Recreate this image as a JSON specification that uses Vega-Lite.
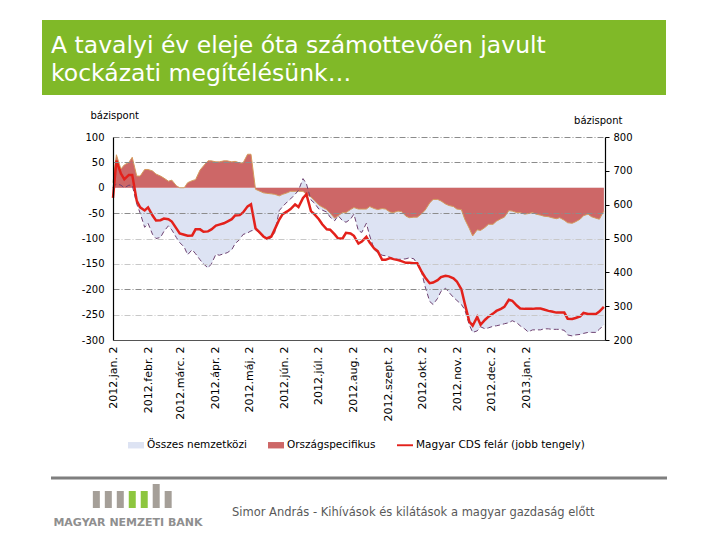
{
  "$schema": "https://vega.github.io/schema/vega-lite/v6.json",
  "padding": {"left": 42, "top": 20, "right": 0, "bottom": 0},
  "background": "white",
  "config": {
    "view": {"stroke": null},
    "font": "DejaVu Sans",
    "axis": {"labelFont": "DejaVu Sans", "titleFont": "DejaVu Sans"},
    "legend": {"labelFont": "DejaVu Sans"}
  },
  "bounds": "flush",
  "center": true,
  "spacing": 42,
  "datasets": {
    "cds": [
      {"date": "2012-01-02", "intl": 0, "cs": 10, "cds": 620},
      {"date": "2012-01-05", "intl": 8, "cs": 65, "cds": 730},
      {"date": "2012-01-09", "intl": 5, "cs": 37, "cds": 692},
      {"date": "2012-01-12", "intl": 0, "cs": 45, "cds": 675},
      {"date": "2012-01-16", "intl": 5, "cs": 50, "cds": 688},
      {"date": "2012-01-19", "intl": 5, "cs": 60, "cds": 688},
      {"date": "2012-01-23", "intl": -32, "cs": 23, "cds": 611},
      {"date": "2012-01-26", "intl": -50, "cs": 23, "cds": 592},
      {"date": "2012-01-30", "intl": -78, "cs": 36, "cds": 583},
      {"date": "2012-02-02", "intl": -70, "cs": 36, "cds": 592},
      {"date": "2012-02-06", "intl": -92, "cs": 33, "cds": 568},
      {"date": "2012-02-09", "intl": -100, "cs": 27, "cds": 553},
      {"date": "2012-02-13", "intl": -98, "cs": 23, "cds": 554},
      {"date": "2012-02-16", "intl": -86, "cs": 19, "cds": 559},
      {"date": "2012-02-20", "intl": -75, "cs": 13, "cds": 557},
      {"date": "2012-02-23", "intl": -83, "cs": 15, "cds": 550},
      {"date": "2012-02-27", "intl": -98, "cs": 4, "cds": 530},
      {"date": "2012-03-01", "intl": -108, "cs": 0, "cds": 515},
      {"date": "2012-03-05", "intl": -117, "cs": 0, "cds": 511},
      {"date": "2012-03-08", "intl": -132, "cs": 10, "cds": 508},
      {"date": "2012-03-12", "intl": -122, "cs": 14, "cds": 509},
      {"date": "2012-03-15", "intl": -130, "cs": 16, "cds": 527},
      {"date": "2012-03-19", "intl": -142, "cs": 35, "cds": 527},
      {"date": "2012-03-22", "intl": -150, "cs": 43, "cds": 520},
      {"date": "2012-03-26", "intl": -158, "cs": 53, "cds": 521},
      {"date": "2012-03-29", "intl": -150, "cs": 53, "cds": 527},
      {"date": "2012-04-02", "intl": -131, "cs": 51, "cds": 538},
      {"date": "2012-04-05", "intl": -133, "cs": 51, "cds": 541},
      {"date": "2012-04-09", "intl": -130, "cs": 53, "cds": 545},
      {"date": "2012-04-12", "intl": -128, "cs": 53, "cds": 550},
      {"date": "2012-04-16", "intl": -122, "cs": 51, "cds": 557},
      {"date": "2012-04-19", "intl": -110, "cs": 52, "cds": 568},
      {"date": "2012-04-23", "intl": -102, "cs": 49, "cds": 569},
      {"date": "2012-04-26", "intl": -92, "cs": 49, "cds": 577},
      {"date": "2012-04-30", "intl": -89, "cs": 66, "cds": 595},
      {"date": "2012-05-03", "intl": -85, "cs": 66, "cds": 601},
      {"date": "2012-05-07", "intl": -83, "cs": -3, "cds": 530},
      {"date": "2012-05-10", "intl": -88, "cs": -6, "cds": 520},
      {"date": "2012-05-14", "intl": -95, "cs": -10, "cds": 506},
      {"date": "2012-05-17", "intl": -103, "cs": -11, "cds": 500},
      {"date": "2012-05-21", "intl": -98, "cs": -12, "cds": 506},
      {"date": "2012-05-24", "intl": -88, "cs": -13, "cds": 527},
      {"date": "2012-05-28", "intl": -45, "cs": -16, "cds": 556},
      {"date": "2012-05-31", "intl": -37, "cs": -13, "cds": 572},
      {"date": "2012-06-04", "intl": -28, "cs": -10, "cds": 580},
      {"date": "2012-06-07", "intl": -22, "cs": -7, "cds": 587},
      {"date": "2012-06-11", "intl": -13, "cs": -7, "cds": 601},
      {"date": "2012-06-14", "intl": -5, "cs": -7, "cds": 593},
      {"date": "2012-06-18", "intl": 18, "cs": -7, "cds": 620},
      {"date": "2012-06-21", "intl": 8, "cs": -13, "cds": 631},
      {"date": "2012-06-25", "intl": -24, "cs": -18, "cds": 581},
      {"date": "2012-06-28", "intl": -30, "cs": -25, "cds": 572},
      {"date": "2012-07-02", "intl": -42, "cs": -34, "cds": 557},
      {"date": "2012-07-05", "intl": -44, "cs": -38, "cds": 542},
      {"date": "2012-07-09", "intl": -48, "cs": -43, "cds": 527},
      {"date": "2012-07-12", "intl": -58, "cs": -50, "cds": 526},
      {"date": "2012-07-16", "intl": -65, "cs": -60, "cds": 512},
      {"date": "2012-07-19", "intl": -55, "cs": -55, "cds": 500},
      {"date": "2012-07-23", "intl": -65, "cs": -49, "cds": 500},
      {"date": "2012-07-26", "intl": -68, "cs": -49, "cds": 517},
      {"date": "2012-07-30", "intl": -62, "cs": -43, "cds": 515},
      {"date": "2012-08-02", "intl": -52, "cs": -39, "cds": 508},
      {"date": "2012-08-06", "intl": -85, "cs": -42, "cds": 485},
      {"date": "2012-08-09", "intl": -88, "cs": -42, "cds": 491},
      {"date": "2012-08-13", "intl": -70, "cs": -42, "cds": 505},
      {"date": "2012-08-16", "intl": -95, "cs": -37, "cds": 488},
      {"date": "2012-08-20", "intl": -122, "cs": -41, "cds": 470},
      {"date": "2012-08-23", "intl": -128, "cs": -43, "cds": 463},
      {"date": "2012-08-27", "intl": -133, "cs": -41, "cds": 437},
      {"date": "2012-08-30", "intl": -134, "cs": -42, "cds": 437},
      {"date": "2012-09-03", "intl": -137, "cs": -48, "cds": 442},
      {"date": "2012-09-06", "intl": -140, "cs": -49, "cds": 439},
      {"date": "2012-09-10", "intl": -141, "cs": -46, "cds": 436},
      {"date": "2012-09-13", "intl": -141, "cs": -47, "cds": 433},
      {"date": "2012-09-17", "intl": -140, "cs": -56, "cds": 428},
      {"date": "2012-09-20", "intl": -138, "cs": -59, "cds": 428},
      {"date": "2012-09-24", "intl": -140, "cs": -58, "cds": 427},
      {"date": "2012-09-27", "intl": -150, "cs": -58, "cds": 427},
      {"date": "2012-10-01", "intl": -168, "cs": -51, "cds": 401},
      {"date": "2012-10-04", "intl": -195, "cs": -44, "cds": 385},
      {"date": "2012-10-08", "intl": -224, "cs": -30, "cds": 368},
      {"date": "2012-10-11", "intl": -230, "cs": -23, "cds": 370},
      {"date": "2012-10-15", "intl": -218, "cs": -23, "cds": 377},
      {"date": "2012-10-18", "intl": -204, "cs": -26, "cds": 386},
      {"date": "2012-10-22", "intl": -198, "cs": -32, "cds": 390},
      {"date": "2012-10-25", "intl": -206, "cs": -35, "cds": 388},
      {"date": "2012-10-29", "intl": -216, "cs": -37, "cds": 382},
      {"date": "2012-11-01", "intl": -222, "cs": -42, "cds": 373},
      {"date": "2012-11-05", "intl": -230, "cs": -43, "cds": 350},
      {"date": "2012-11-08", "intl": -240, "cs": -62, "cds": 308},
      {"date": "2012-11-12", "intl": -270, "cs": -80, "cds": 255},
      {"date": "2012-11-15", "intl": -285, "cs": -95, "cds": 242},
      {"date": "2012-11-19", "intl": -282, "cs": -83, "cds": 268},
      {"date": "2012-11-22", "intl": -274, "cs": -84, "cds": 245},
      {"date": "2012-11-26", "intl": -278, "cs": -78, "cds": 260},
      {"date": "2012-11-29", "intl": -276, "cs": -72, "cds": 269},
      {"date": "2012-12-03", "intl": -273, "cs": -72, "cds": 278},
      {"date": "2012-12-06", "intl": -272, "cs": -66, "cds": 286},
      {"date": "2012-12-10", "intl": -270, "cs": -61, "cds": 292},
      {"date": "2012-12-13", "intl": -268, "cs": -58, "cds": 298},
      {"date": "2012-12-17", "intl": -266, "cs": -45, "cds": 319},
      {"date": "2012-12-20", "intl": -262, "cs": -46, "cds": 316},
      {"date": "2012-12-24", "intl": -266, "cs": -49, "cds": 302},
      {"date": "2012-12-27", "intl": -272, "cs": -49, "cds": 293},
      {"date": "2012-12-31", "intl": -278, "cs": -52, "cds": 292},
      {"date": "2013-01-03", "intl": -284, "cs": -51, "cds": 292},
      {"date": "2013-01-07", "intl": -280, "cs": -49, "cds": 292},
      {"date": "2013-01-10", "intl": -280, "cs": -52, "cds": 293},
      {"date": "2013-01-14", "intl": -280, "cs": -54, "cds": 293},
      {"date": "2013-01-17", "intl": -278, "cs": -56, "cds": 290},
      {"date": "2013-01-21", "intl": -278, "cs": -57, "cds": 286},
      {"date": "2013-01-24", "intl": -279, "cs": -59, "cds": 284},
      {"date": "2013-01-28", "intl": -279, "cs": -61, "cds": 281},
      {"date": "2013-01-31", "intl": -279, "cs": -59, "cds": 281},
      {"date": "2013-02-04", "intl": -281, "cs": -64, "cds": 281},
      {"date": "2013-02-07", "intl": -290, "cs": -69, "cds": 263},
      {"date": "2013-02-11", "intl": -292, "cs": -70, "cds": 262},
      {"date": "2013-02-14", "intl": -290, "cs": -67, "cds": 265},
      {"date": "2013-02-18", "intl": -289, "cs": -62, "cds": 270},
      {"date": "2013-02-21", "intl": -287, "cs": -55, "cds": 280},
      {"date": "2013-02-25", "intl": -285, "cs": -52, "cds": 277},
      {"date": "2013-02-28", "intl": -285, "cs": -57, "cds": 277},
      {"date": "2013-03-04", "intl": -285, "cs": -60, "cds": 277},
      {"date": "2013-03-07", "intl": -279, "cs": -62, "cds": 284},
      {"date": "2013-03-11", "intl": -270, "cs": -46, "cds": 298}
    ]
  },
  "vconcat": [
    {
      "width": 634,
      "height": 75,
      "data": {"values": [{"t": "A tavalyi év eleje óta számottevően javult\nkockázati megítélésünk…"}]},
      "layer": [
        {
          "mark": {"type": "rect", "color": "#80B928"},
          "encoding": {
            "x": {"datum": 0, "type": "quantitative", "scale": {"domain": [0, 634]}, "axis": null},
            "x2": {"datum": 624},
            "y": {"datum": 0, "type": "quantitative", "scale": {"domain": [0, 75], "reverse": true}, "axis": null},
            "y2": {"datum": 75}
          }
        },
        {
          "mark": {"type": "text", "color": "white", "fontSize": 23.5, "align": "left", "baseline": "alphabetic", "lineBreak": "\n", "lineHeight": 28},
          "encoding": {
            "x": {"datum": 9, "type": "quantitative", "scale": {"domain": [0, 634]}, "axis": null},
            "y": {"datum": 33, "type": "quantitative", "scale": {"domain": [0, 75], "reverse": true}, "axis": null},
            "text": {"field": "t"}
          }
        }
      ]
    },
    {
      "width": 492,
      "height": 203,
      "data": {"name": "cds"},
      "layer": [
        {
          "layer": [
            {
              "mark": {"type": "area", "color": "#DDE3F3"},
              "encoding": {
                "x": {
                  "field": "date", "type": "temporal", "title": null,
                  "scale": {"type": "utc", "domain": [{"year": 2012, "month": 1, "date": 2, "utc": true}, {"year": 2013, "month": 3, "date": 12, "utc": true}]},
                  "axis": {
                    "values": [
                      {"year": 2012, "month": 1, "date": 2, "utc": true},
                      {"year": 2012, "month": 2, "date": 2, "utc": true},
                      {"year": 2012, "month": 3, "date": 2, "utc": true},
                      {"year": 2012, "month": 4, "date": 2, "utc": true},
                      {"year": 2012, "month": 5, "date": 2, "utc": true},
                      {"year": 2012, "month": 6, "date": 2, "utc": true},
                      {"year": 2012, "month": 7, "date": 2, "utc": true},
                      {"year": 2012, "month": 8, "date": 2, "utc": true},
                      {"year": 2012, "month": 9, "date": 2, "utc": true},
                      {"year": 2012, "month": 10, "date": 2, "utc": true},
                      {"year": 2012, "month": 11, "date": 2, "utc": true},
                      {"year": 2012, "month": 12, "date": 2, "utc": true},
                      {"year": 2013, "month": 1, "date": 2, "utc": true}
                    ],
                    "labelExpr": "utcFormat(datum.value, '%Y') + '.' + ['jan.','febr.','márc.','ápr.','máj.','jún.','júl.','aug.','szept.','okt.','nov.','dec.'][utcmonth(datum.value)] + ' ' + utcdate(datum.value)",
                    "labelAngle": 270,
                    "labelOverlap": false,
                    "labelFontSize": 11,
                    "labelColor": "#000000",
                    "labelPadding": 6,
                    "ticks": false,
                    "grid": false,
                    "domainColor": "#555555"
                  }
                },
                "y": {
                  "field": "intl", "type": "quantitative", "title": "bázispont",
                  "scale": {"domain": [-300, 100]},
                  "axis": {
                    "values": [-300, -250, -200, -150, -100, -50, 0, 50, 100],
                    "tickCount": 9,
                    "labelOverlap": false,
                    "labelExpr": "'' + datum.value",
                    "labelFontSize": 10,
                    "labelColor": "#000000",
                    "labelPadding": 9,
                    "ticks": false,
                    "domainColor": "#000000",
                    "domainWidth": 1.2,
                    "titleAngle": 0,
                    "titleAlign": "left",
                    "titleBaseline": "alphabetic",
                    "titleX": -23,
                    "titleY": -19,
                    "titleFontSize": 10,
                    "titleFontWeight": "normal",
                    "titleColor": "#000000",
                    "gridDash": [6, 2, 1, 2],
                    "gridColor": {"condition": {"test": "datum.value == -100 || datum.value == -150 || datum.value == -250", "value": "#c8c8c8"}, "value": "#8c8c8c"},
                    "gridOpacity": {"condition": {"test": "datum.value == 0 || datum.value == -300", "value": 0}, "value": 1},
                    "zindex": 1
                  }
                },
                "y2": {"datum": 0}
              }
            },
            {
              "mark": {"type": "area", "color": "#CD6767"},
              "encoding": {
                "x": {"field": "date", "type": "temporal", "title": null},
                "y": {"field": "cs", "type": "quantitative", "title": "bázispont", "scale": {"domain": [-300, 100]}, "axis": {"values": [-300, -250, -200, -150, -100, -50, 0, 50, 100], "labelOverlap": false}},
                "y2": {"datum": 0}
              }
            },
            {
              "mark": {"type": "line", "color": "#D49A5C", "strokeWidth": 1},
              "encoding": {
                "x": {"field": "date", "type": "temporal", "title": null},
                "y": {"field": "cs", "type": "quantitative", "title": "bázispont", "scale": {"domain": [-300, 100]}, "axis": {"values": [-300, -250, -200, -150, -100, -50, 0, 50, 100], "labelOverlap": false}}
              }
            },
            {
              "mark": {"type": "line", "color": "#6E4272", "strokeWidth": 1, "strokeDash": [5, 3]},
              "encoding": {
                "x": {"field": "date", "type": "temporal", "title": null},
                "y": {"field": "intl", "type": "quantitative", "title": "bázispont", "scale": {"domain": [-300, 100]}, "axis": {"values": [-300, -250, -200, -150, -100, -50, 0, 50, 100], "labelOverlap": false}}
              }
            },
            {
              "data": {"values": [
                {"series": "Összes nemzetközi", "v": -1000},
                {"series": "Országspecifikus", "v": -1000},
                {"series": "Magyar CDS felár (jobb tengely)", "v": -1000}
              ]},
              "mark": {"type": "point", "filled": true, "clip": true, "size": 256, "opacity": 1},
              "encoding": {
                "y": {"field": "v", "type": "quantitative", "title": "bázispont", "scale": {"domain": [-300, 100]}, "axis": {"values": [-300, -250, -200, -150, -100, -50, 0, 50, 100], "labelOverlap": false}},
                "color": {
                  "field": "series", "type": "nominal",
                  "scale": {
                    "domain": ["Összes nemzetközi", "Országspecifikus", "Magyar CDS felár (jobb tengely)"],
                    "range": ["#DDE3F3", "#CD6767", "#E3211B"]
                  },
                  "legend": {
                    "title": null,
                    "orient": "none",
                    "direction": "horizontal",
                    "legendX": 86,
                    "legendY": 417,
                    "labelFontSize": 10.5,
                    "labelColor": "#000000",
                    "labelOffset": 3,
                    "labelLimit": 300,
                    "columnPadding": 21,
                    "symbolSize": 256,
                    "symbolStrokeWidth": 0,
                    "symbolOpacity": 1
                  }
                },
                "shape": {
                  "field": "series", "type": "nominal",
                  "scale": {
                    "domain": ["Összes nemzetközi", "Országspecifikus", "Magyar CDS felár (jobb tengely)"],
                    "range": ["M-1,-0.4H1V0.4H-1Z", "M-1,-0.4H1V0.4H-1Z", "M-1,-0.12H1V0.12H-1Z"]
                  }
                }
              }
            }
          ]
        },
        {
          "mark": {"type": "line", "color": "#E3211B", "strokeWidth": 2.5},
          "encoding": {
            "x": {"field": "date", "type": "temporal", "title": null},
            "y": {
              "field": "cds", "type": "quantitative", "title": "bázispont",
              "scale": {"domain": [200, 800]},
              "axis": {
                "orient": "right",
                "values": [200, 300, 400, 500, 600, 700, 800],
                "labelOverlap": false,
                "grid": false,
                "labelFontSize": 10,
                "labelColor": "#000000",
                "labelPadding": 4,
                "ticks": true,
                "tickSize": 4,
                "tickColor": "#000000",
                "domainColor": "#000000",
                "domainWidth": 1.2,
                "titleAngle": 0,
                "titleAlign": "right",
                "titleBaseline": "alphabetic",
                "titleX": 17,
                "titleY": -14,
                "titleFontSize": 10,
                "titleFontWeight": "normal",
                "titleColor": "#000000"
              }
            }
          }
        }
      ],
      "resolve": {"scale": {"y": "independent"}}
    },
    {
      "width": 616,
      "height": 158,
      "layer": [
        {
          "data": {"values": [{"t": ""}]},
          "mark": {"type": "rule", "color": "#7F7F7F", "strokeWidth": 3},
          "encoding": {
            "x": {"datum": 0, "type": "quantitative", "scale": {"domain": [0, 616]}, "axis": null},
            "x2": {"datum": 616},
            "y": {"datum": 96, "type": "quantitative", "scale": {"domain": [0, 158], "reverse": true}, "axis": null}
          }
        },
        {
          "data": {"values": [{"t": "Simor András - Kihívások és kilátások a magyar gazdaság előtt"}]},
          "mark": {"type": "text", "align": "left", "baseline": "alphabetic", "fontSize": 11.5, "color": "#595959"},
          "encoding": {
            "x": {"datum": 181, "type": "quantitative", "scale": {"domain": [0, 616]}, "axis": null},
            "y": {"datum": 134, "type": "quantitative", "scale": {"domain": [0, 158], "reverse": true}, "axis": null},
            "text": {"field": "t"}
          }
        },
        {
          "data": {"values": [{"t": "MAGYAR NEMZETI BANK"}]},
          "mark": {"type": "text", "align": "center", "baseline": "alphabetic", "fontSize": 11, "fontWeight": "bold", "color": "#8F8F8F"},
          "encoding": {
            "x": {"datum": 77, "type": "quantitative", "scale": {"domain": [0, 616]}, "axis": null},
            "y": {"datum": 144, "type": "quantitative", "scale": {"domain": [0, 158], "reverse": true}, "axis": null},
            "text": {"field": "t"}
          }
        },
        {
          "data": {"values": [
            {"bar": 1, "h": 17, "part": "szürke"},
            {"bar": 2, "h": 17, "part": "szürke"},
            {"bar": 3, "h": 17, "part": "szürke"},
            {"bar": 4, "h": 17, "part": "zöld"},
            {"bar": 5, "h": 17, "part": "zöld"},
            {"bar": 6, "h": 24, "part": "szürke"},
            {"bar": 7, "h": 17, "part": "szürke"}
          ]},
          "mark": {"type": "bar", "width": 7},
          "encoding": {
            "x": {"field": "bar", "type": "quantitative", "scale": {"domain": [-2.37, 48.25]}, "axis": null},
            "y": {"field": "h", "type": "quantitative", "scale": {"domain": [-32, 126]}, "axis": null},
            "y2": {"datum": 0},
            "color": {"field": "part", "type": "nominal", "scale": {"domain": ["szürke", "zöld"], "range": ["#A59F98", "#8DC63F"]}, "legend": null}
          }
        }
      ],
      "resolve": {"scale": {"x": "independent", "y": "independent", "color": "independent"}}
    }
  ]
}
